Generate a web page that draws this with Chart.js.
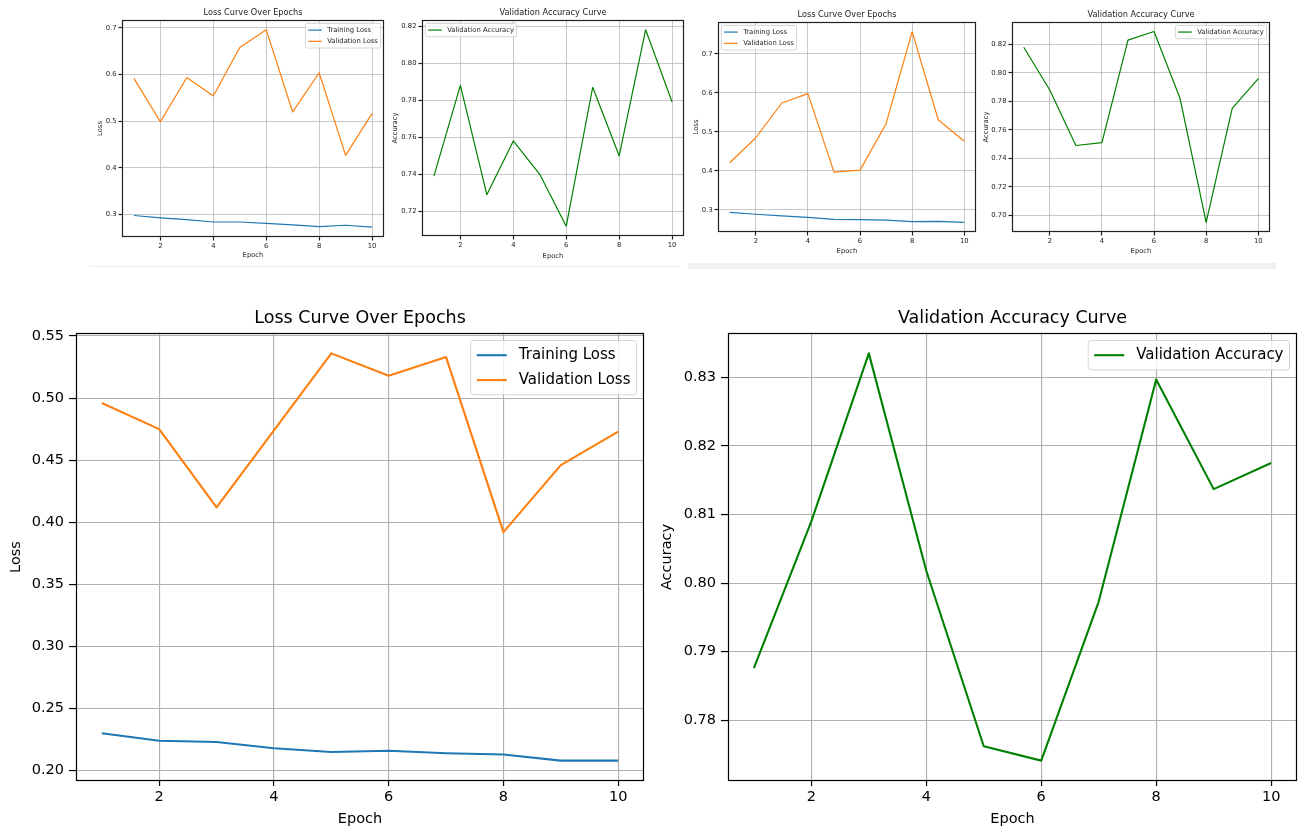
<!DOCTYPE html>
<html>
<head>
<meta charset="utf-8">
<title>Loss and accuracy curves</title>
<script src="https://cdn.jsdelivr.net/npm/chart.js@4.4.1/dist/chart.umd.min.js"></script>
<style>
  html, body { margin: 0; padding: 0; background: #fff; overflow: hidden; }
  body { width: 1304px; height: 830px; position: relative; }
  canvas { position: absolute; }
  .sep { position: absolute; }
</style>
</head>
<body>
<div class="sep" style="left:90px;top:266px;width:590px;height:1px;background:#ebebeb"></div>
<div class="sep" style="left:688px;top:263px;width:588px;height:6px;background:#f0f0f0"></div>
<canvas id="lossA"></canvas>
<canvas id="accA"></canvas>
<canvas id="lossB"></canvas>
<canvas id="accB"></canvas>
<canvas id="lossC"></canvas>
<canvas id="accC"></canvas>
<script>
// Three training runs
var epochs = [1, 2, 3, 4, 5, 6, 7, 8, 9, 10];
var epochTicks = [2, 4, 6, 8, 10];

// run A (top left screenshot)
var trainLossA = [0.298, 0.293, 0.289, 0.284, 0.284, 0.281, 0.278, 0.274, 0.277, 0.273];
var valLossA = [0.592, 0.499, 0.594, 0.554, 0.658, 0.696, 0.520, 0.604, 0.427, 0.517];
var valAccA = [0.739, 0.788, 0.729, 0.758, 0.740, 0.712, 0.787, 0.750, 0.818, 0.779];

// run B (top right screenshot)
var trainLossB = [0.294, 0.289, 0.285, 0.281, 0.276, 0.275, 0.274, 0.270, 0.271, 0.268];
var valLossB = [0.421, 0.485, 0.574, 0.598, 0.397, 0.402, 0.521, 0.757, 0.531, 0.476];
var valAccB = [0.818, 0.788, 0.749, 0.751, 0.823, 0.829, 0.782, 0.695, 0.775, 0.796];

// run C (large charts)
var trainLossC = [0.230, 0.224, 0.223, 0.218, 0.215, 0.216, 0.214, 0.213, 0.208, 0.208];
var valLossC = [0.496, 0.475, 0.412, 0.474, 0.536, 0.518, 0.533, 0.392, 0.446, 0.473];
var valAccC = [0.7876, 0.809, 0.8335, 0.8018, 0.7762, 0.7741, 0.7973, 0.8297, 0.8137, 0.8175];

var lossTicksA = [0.3, 0.4, 0.5, 0.6, 0.7];
var accTicksA = [0.72, 0.74, 0.76, 0.78, 0.80, 0.82];
var lossTicksB = [0.3, 0.4, 0.5, 0.6, 0.7];
var accTicksB = [0.70, 0.72, 0.74, 0.76, 0.78, 0.80, 0.82];
var lossTicksC = [0.20, 0.25, 0.30, 0.35, 0.40, 0.45, 0.50, 0.55];
var accTicksC = [0.78, 0.79, 0.80, 0.81, 0.82, 0.83];

var BLUE = '#1f77b4', ORANGE = '#ff7f0e', GREEN = '#008000';
var FONT = '"DejaVu Sans", sans-serif';
Chart.defaults.font.family = FONT;

var SMALL = { title: 8.2, tick: 6.8, legend: 6.8, line: 1.2, grid: 0.7, spine: 1.2, tickLenX: 3.5, tickLenY: 3.5, padX: 2, padY: 2, ink: '#222' };
var LARGE = { title: 17.5, tick: 14.5, legend: 15, line: 2.1, grid: 1.1, spine: 1.2, tickLenX: 5, tickLenY: 7, padX: 3, padY: 5, ink: '#000' };

// matplotlib style autoscale: 5% margin each side
function axisLimits(lists) {
  var all = [].concat.apply([], lists);
  var lo = Math.min.apply(null, all), hi = Math.max.apply(null, all);
  var m = (hi - lo) * 0.05;
  return [lo - m, hi + m];
}

// frame, title and in-axes legend, drawn the way matplotlib does it
var mplPlugin = {
  id: 'mpl',
  afterDraw: function (chart) {
    var o = chart.options.plugins.mpl;
    var ctx = chart.ctx, a = chart.chartArea;
    ctx.save();

    ctx.strokeStyle = o.ink;
    ctx.lineWidth = o.spine;
    ctx.strokeRect(Math.round(a.left) + 0.5, Math.round(a.top) + 0.5,
      Math.round(a.right - a.left) - 1, Math.round(a.bottom - a.top) - 1);

    ctx.fillStyle = o.ink;
    ctx.font = o.titleSize + 'px ' + FONT;
    ctx.textAlign = 'center';
    ctx.textBaseline = 'alphabetic';
    ctx.fillText(o.title, (a.left + a.right) / 2, a.top - o.titleSize * 0.6);

    var em = o.legendSize;
    var ds = chart.data.datasets;
    ctx.font = em + 'px ' + FONT;
    var textW = Math.max.apply(null, ds.map(function (d) { return ctx.measureText(d.label).width; }));
    var bp = 0.4 * em, rowH = 1.16 * em, gap = 0.5 * em;
    var boxW = 2 * bp + 2.8 * em + textW;
    var boxH = 2 * bp + ds.length * rowH + (ds.length - 1) * gap;
    var bx = o.legendLoc === 'upper left' ? a.left + 0.5 * em : a.right - 0.5 * em - boxW;
    var by = a.top + 0.5 * em;
    ctx.beginPath();
    if (ctx.roundRect) ctx.roundRect(bx, by, boxW, boxH, 0.2 * em);
    else ctx.rect(bx, by, boxW, boxH);
    ctx.fillStyle = 'rgba(255,255,255,0.8)';
    ctx.fill();
    ctx.strokeStyle = 'rgba(204,204,204,0.8)';
    ctx.lineWidth = 1;
    ctx.stroke();
    ds.forEach(function (d, i) {
      var cy = by + bp + i * (rowH + gap) + rowH / 2;
      ctx.beginPath();
      ctx.moveTo(bx + bp, cy);
      ctx.lineTo(bx + bp + 2 * em, cy);
      ctx.strokeStyle = d.borderColor;
      ctx.lineWidth = d.borderWidth;
      ctx.stroke();
      ctx.fillStyle = o.ink;
      ctx.textAlign = 'left';
      ctx.textBaseline = 'middle';
      ctx.fillText(d.label, bx + bp + 2.8 * em, cy);
    });
    ctx.restore();
  }
};

function drawCurve(spec) {
  var st = spec.style;
  var p = spec.plot; // plot area [left, top, right, bottom] on the page
  var canvas = document.getElementById(spec.id);
  var yAxW = p[0] - spec.left;
  var xAxH = spec.bottom - p[3];
  canvas.width = p[2] - spec.left + spec.rightPad;
  canvas.height = spec.bottom - spec.top;
  canvas.style.left = spec.left + 'px';
  canvas.style.top = spec.top + 'px';

  var xLim = axisLimits([epochs]);
  var yLim = axisLimits(spec.series.map(function (s) { return s.data; }));
  var yTitlePad = Math.max(0, spec.yTitleX - spec.left - st.tick * 0.6);

  function gridOpts(len) {
    return { color: '#b0b0b0', lineWidth: st.grid, tickColor: st.ink, tickWidth: st.spine, tickLength: len };
  }

  new Chart(canvas, {
    type: 'line',
    data: {
      datasets: spec.series.map(function (s) {
        return {
          label: s.label,
          data: epochs.map(function (e, i) { return { x: e, y: s.data[i] }; }),
          borderColor: s.color,
          borderWidth: st.line,
          borderJoinStyle: 'round',
          pointRadius: 0,
          tension: 0,
          fill: false
        };
      })
    },
    options: {
      responsive: false,
      animation: false,
      devicePixelRatio: 1,
      events: [],
      layout: { padding: { left: 0, top: p[1] - spec.top, right: spec.rightPad, bottom: 0 } },
      scales: {
        x: {
          type: 'linear',
          min: xLim[0],
          max: xLim[1],
          afterBuildTicks: function (ax) { ax.ticks = epochTicks.map(function (v) { return { value: v }; }); },
          afterFit: function (ax) { ax.height = xAxH; },
          border: { display: false },
          grid: gridOpts(st.tickLenX),
          ticks: {
            color: st.ink, font: { size: st.tick }, padding: st.padX, maxRotation: 0, autoSkip: false,
            callback: function (v) { return String(v); }
          },
          title: { display: true, text: 'Epoch', color: st.ink, font: { size: st.tick }, padding: { top: 0, bottom: 0 } }
        },
        y: {
          type: 'linear',
          min: yLim[0],
          max: yLim[1],
          afterBuildTicks: function (ax) { ax.ticks = spec.yTicks.map(function (v) { return { value: v }; }); },
          afterFit: function (ax) { ax.width = yAxW; },
          border: { display: false },
          grid: gridOpts(st.tickLenY),
          ticks: {
            color: st.ink, font: { size: st.tick }, padding: st.padY, autoSkip: false,
            callback: function (v) { return v.toFixed(spec.decimals); }
          },
          title: { display: true, text: spec.yLabel, color: st.ink, font: { size: st.tick }, padding: { top: yTitlePad, bottom: 0 } }
        }
      },
      plugins: {
        legend: { display: false },
        tooltip: { enabled: false },
        mpl: {
          title: spec.title, titleSize: st.title, legendSize: st.legend, legendLoc: spec.legendLoc,
          ink: st.ink, spine: st.spine
        }
      }
    },
    plugins: [mplPlugin]
  });
}

function lossSeries(train, val) {
  return [
    { label: 'Training Loss', data: train, color: BLUE },
    { label: 'Validation Loss', data: val, color: ORANGE }
  ];
}
function accSeries(acc) {
  return [{ label: 'Validation Accuracy', data: acc, color: GREEN }];
}

drawCurve({ id: 'lossA', style: SMALL, title: 'Loss Curve Over Epochs', yLabel: 'Loss',
  plot: [122, 20, 384, 237], left: 92, top: 0, rightPad: 3, bottom: 259, yTitleX: 100,
  series: lossSeries(trainLossA, valLossA), yTicks: lossTicksA, decimals: 1, legendLoc: 'upper right' });

drawCurve({ id: 'accA', style: SMALL, title: 'Validation Accuracy Curve', yLabel: 'Accuracy',
  plot: [422, 20, 684, 236], left: 388, top: 0, rightPad: 2, bottom: 260, yTitleX: 395,
  series: accSeries(valAccA), yTicks: accTicksA, decimals: 2, legendLoc: 'upper left' });

drawCurve({ id: 'lossB', style: SMALL, title: 'Loss Curve Over Epochs', yLabel: 'Loss',
  plot: [718, 22, 976, 232], left: 688, top: 0, rightPad: 2, bottom: 255, yTitleX: 696,
  series: lossSeries(trainLossB, valLossB), yTicks: lossTicksB, decimals: 1, legendLoc: 'upper left' });

drawCurve({ id: 'accB', style: SMALL, title: 'Validation Accuracy Curve', yLabel: 'Accuracy',
  plot: [1012, 22, 1270, 232], left: 980, top: 0, rightPad: 3, bottom: 255, yTitleX: 986,
  series: accSeries(valAccB), yTicks: accTicksB, decimals: 2, legendLoc: 'upper right' });

drawCurve({ id: 'lossC', style: LARGE, title: 'Loss Curve Over Epochs', yLabel: 'Loss',
  plot: [76, 333, 644, 781], left: 0, top: 297, rightPad: 4, bottom: 828, yTitleX: 16.5,
  series: lossSeries(trainLossC, valLossC), yTicks: lossTicksC, decimals: 2, legendLoc: 'upper right' });

drawCurve({ id: 'accC', style: LARGE, title: 'Validation Accuracy Curve', yLabel: 'Accuracy',
  plot: [728, 333, 1297, 781], left: 650, top: 297, rightPad: 4, bottom: 828, yTitleX: 667,
  series: accSeries(valAccC), yTicks: accTicksC, decimals: 2, legendLoc: 'upper right' });
</script>
</body>
</html>
